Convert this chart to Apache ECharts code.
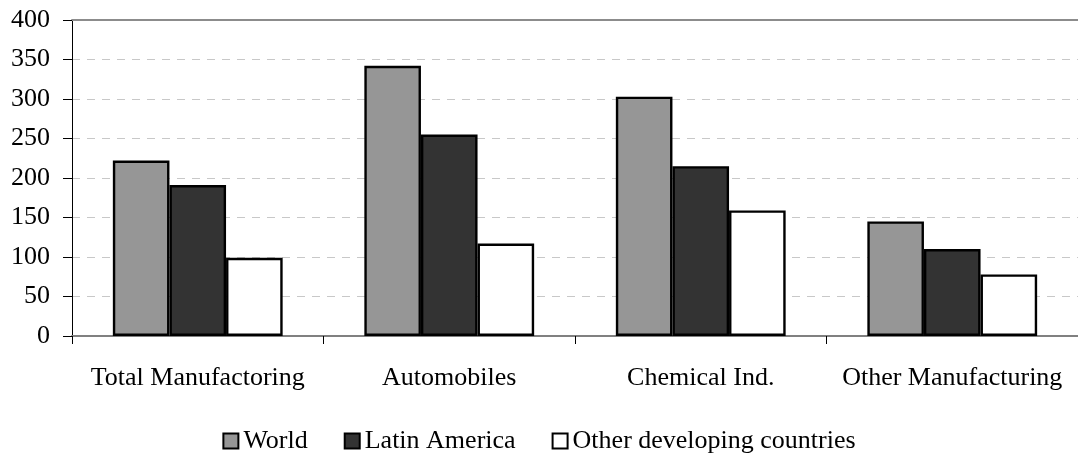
<!DOCTYPE html>
<html>
<head>
<meta charset="utf-8">
<script src="https://cdn.jsdelivr.net/npm/echarts@6/dist/echarts.min.js"></script>
<style>
html,body{margin:0;padding:0;background:#fff;}
#chart{width:1078px;height:463px;}
</style>
</head>
<body>
<div id="chart"></div>
<script>
var categories = ['Total Manufactoring', 'Automobiles', 'Chemical Ind.', 'Other Manufacturing'];
var seriesNames = ['World', 'Latin America', 'Other developing countries'];
var worldValues = [222, 342, 303, 145];
var latinAmericaValues = [191, 255, 215, 110];
var otherDevelopingValues = [99, 117, 159, 78];
var yTicks = [0, 50, 100, 150, 200, 250, 300, 350, 400];

var FONT = '"Liberation Serif", "Times New Roman", serif';
var colors = ['#969696', '#333333', '#ffffff'];
var values = [worldValues, latinAmericaValues, otherDevelopingValues];

var chart = echarts.init(document.getElementById('chart'), null, {renderer: 'canvas'});

var series = seriesNames.map(function (name, i) {
  return {
    name: name,
    type: 'bar',
    data: values[i],
    barWidth: 56.6,
    barGap: '0%',
    xAxisIndex: 0,
    itemStyle: {color: colors[i], borderColor: '#000', borderWidth: 2.4},
    emphasis: {disabled: true},
    animation: false
  };
});

chart.setOption({
  animation: false,
  textStyle: {fontFamily: FONT},
  grid: {left: 72, top: 20, width: 1012, height: 316, containLabel: false},
  legend: {
    data: seriesNames,
    left: 'center',
    top: 423,
    itemWidth: 15,
    itemHeight: 15,
    itemGap: 36,
    icon: 'rect',
    itemStyle: {borderColor: '#000', borderWidth: 2},
    textStyle: {fontFamily: FONT, fontSize: 26, color: '#000', padding: [0, 0, 0, 0]},
    selectedMode: false
  },
  xAxis: [{
    type: 'category',
    data: categories,
    position: 'bottom',
    axisLine: {show: true, lineStyle: {color: '#808080', width: 2}},
    axisTick: {show: true, length: 8, lineStyle: {color: '#000', width: 1}},
    axisLabel: {fontFamily: FONT, fontSize: 26, color: '#000', margin: 29, interval: 0},
    splitLine: {show: false}
  }, {
    type: 'category',
    data: categories,
    position: 'top',
    axisLine: {show: true, lineStyle: {color: '#8c8c8c', width: 2}},
    axisTick: {show: false},
    axisLabel: {show: false},
    splitLine: {show: false}
  }],
  yAxis: {
    type: 'value',
    min: yTicks[0],
    max: yTicks[yTicks.length - 1],
    interval: 50,
    axisLine: {show: true, lineStyle: {color: '#000', width: 1}},
    axisTick: {show: true, length: 9, lineStyle: {color: '#000', width: 1}},
    axisLabel: {fontFamily: FONT, fontSize: 26, color: '#000', margin: 22},
    splitLine: {show: true, lineStyle: {color: '#c8c8c8', type: [8, 7], width: 1}}
  },
  series: series
});
</script>
</body>
</html>
